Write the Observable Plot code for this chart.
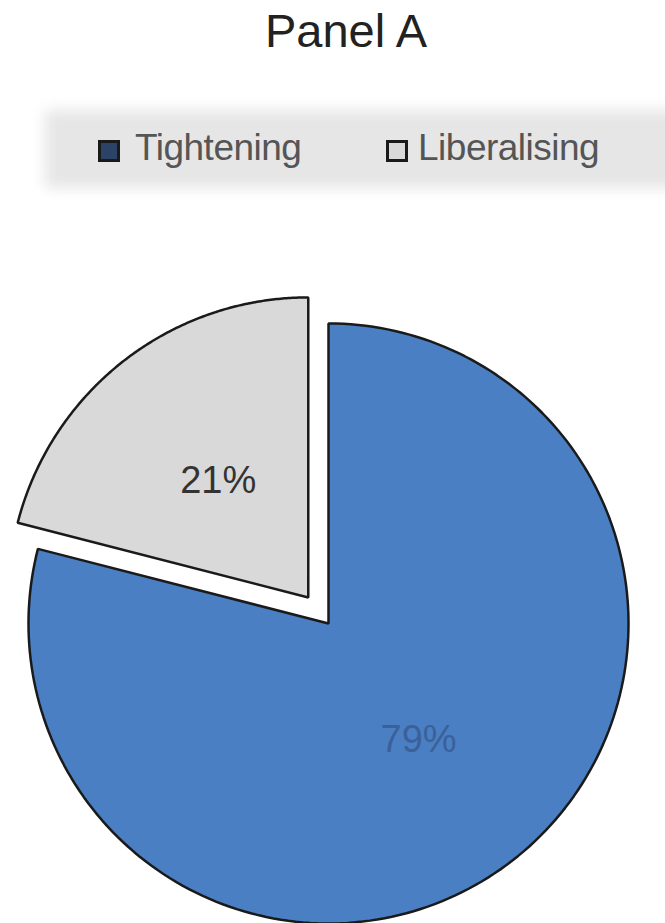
<!DOCTYPE html>
<html>
<head>
<meta charset="utf-8">
<script src="https://cdn.jsdelivr.net/npm/d3@7"></script>
<script src="https://cdn.jsdelivr.net/npm/@observablehq/plot@0.6"></script>
<style>
  html, body { margin: 0; padding: 0; background: #fff; }
  #page { position: relative; width: 665px; height: 923px; overflow: hidden; font-family: "Liberation Sans", Arial, sans-serif; }
  #title { position: absolute; left: 0; top: 6px; width: 692px; text-align: center; font-size: 47px; color: #222; line-height: 50px; }
  #band { position: absolute; left: 45px; top: 110px; width: 660px; height: 78px; background: #e6e6e6; filter: blur(7px); }
  .sw { position: absolute; width: 22px; height: 22px; box-sizing: border-box; border: 3px solid #1a1a1a; }
  .lt { position: absolute; font-size: 37px; color: #555; line-height: 40px; letter-spacing: -0.5px; }
  #chart { position: absolute; left: 0; top: 200px; }
</style>
</head>
<body>
<div id="page">
  <div id="title">Panel A</div>
  <div id="band"></div>
  <div id="legend"></div>
  <div id="chart"></div>
</div>
<script>
// Data
const categories = ["Tightening", "Liberalising"];
const shares = [79, 21];
const labels = ["79%", "21%"];
const colors = ["#4a7fc3", "#d9d9d9"];
const explode = [0, 0.11];

// Legend
const legend = document.getElementById("legend");
const legendPos = [{sx: 98, tx: 135}, {sx: 386, tx: 418}];
const swatchFill = ["#2c4266", "#d9d9d9"];
categories.forEach((c, i) => {
  const sw = document.createElement("div");
  sw.className = "sw";
  sw.style.left = legendPos[i].sx + "px";
  sw.style.top = "140px";
  sw.style.background = swatchFill[i];
  legend.appendChild(sw);
  const t = document.createElement("div");
  t.className = "lt";
  t.style.left = legendPos[i].tx + "px";
  t.style.top = "128px";
  t.textContent = c;
  legend.appendChild(t);
});

// Pie geometry via d3.pie (angles clockwise from 12 o'clock)
const pie = d3.pie().sort(null).value(d => d.value)(
  categories.map((c, i) => ({name: c, value: shares[i], color: colors[i], label: labels[i], explode: explode[i]}))
);

const slices = pie.map(p => {
  const mid = (p.startAngle + p.endAngle) / 2;
  const ox = Math.sin(mid) * p.data.explode;
  const oy = Math.cos(mid) * p.data.explode;
  const pts = [{x: ox, y: oy}];
  const n = 200;
  for (let k = 0; k <= n; k++) {
    const a = p.startAngle + (p.endAngle - p.startAngle) * k / n;
    pts.push({x: ox + Math.sin(a), y: oy + Math.cos(a)});
  }
  return {pts, color: p.data.color, label: p.data.label,
          lx: ox + 0.49 * Math.sin(mid), ly: oy + 0.49 * Math.cos(mid), name: p.data.name};
});

const W = 665, H = 723;
const chart = Plot.plot({
  width: W,
  height: H,
  margin: 0,
  x: {domain: [-1.0933, 1.1233], axis: null},
  y: {domain: [-1, 1.41], axis: null},
  marks: [
    ...slices.map(s => Plot.line(s.pts, {
      x: "x", y: "y", curve: "linear-closed",
      fill: s.color, stroke: "#1a1a1a", strokeWidth: 2.5, strokeLinejoin: "miter"
    })),
    Plot.text(slices, {
      x: "lx", y: "ly", text: "label",
      fontSize: 38, fill: (d) => d.name === "Tightening" ? "#3a6199" : "#333",
      fontFamily: "Liberation Sans, Arial, sans-serif"
    })
  ]
});
document.getElementById("chart").appendChild(chart);
</script>
</body>
</html>
